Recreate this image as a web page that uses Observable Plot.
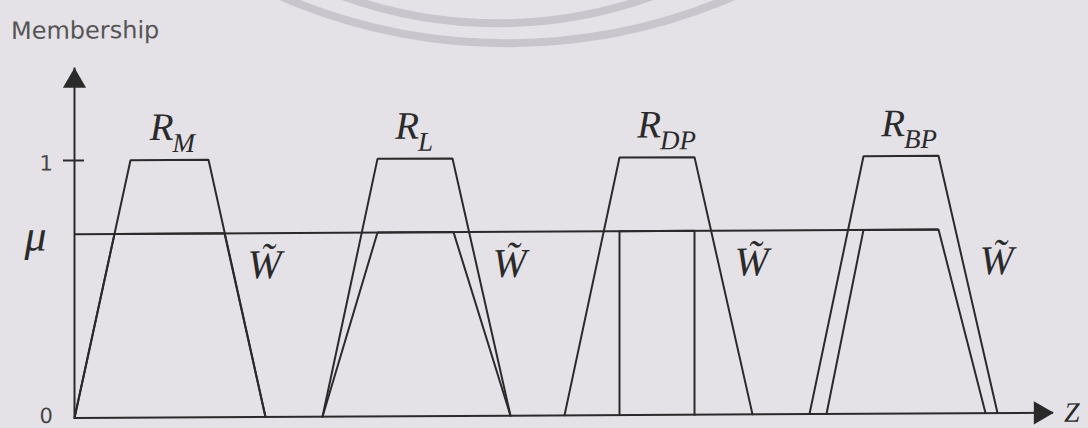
<!DOCTYPE html>
<html>
<head>
<meta charset="utf-8">
<script src="https://cdn.jsdelivr.net/npm/d3@7"></script>
<script src="https://cdn.jsdelivr.net/npm/@observablehq/plot@0.6"></script>
<style>
  html, body { margin: 0; padding: 0; background: #e4e2e6; overflow: hidden; }
  #figure {
    position: relative; width: 1088px; height: 428px;
    transform: skewY(-0.31deg); transform-origin: 544px 214px;
  }
  #figure svg { position: absolute; left: 0; top: 0; }
  .heading {
    position: absolute; left: 11px; top: 16px;
    font: 24px "DejaVu Sans", Verdana, sans-serif; color: #555; line-height: 1;
  }
  .arc { position: absolute; box-sizing: border-box; border-radius: 50%; border: 8px solid #c9c5cd; }
</style>
</head>
<body>
<div id="figure">
  <div class="arc" style="left:-65px; top:-1103px; width:1150px; height:1150px;"></div>
  <div class="arc" style="left:40px; top:-893px; width:920px; height:920px;"></div>
  <div class="heading">Membership</div>
</div>
<script>
// Fuzzy sets on the Z axis: outer trapezoids R and the weighted sets W̃ (cut at level μ)
const setNames = ["M", "L", "DP", "BP"];
// corner positions along Z: [foot left, shoulder left, shoulder right, foot right]
const rCorners = [
  [0.0, 5.6, 13.4, 19.1],
  [24.8, 30.3, 37.8, 43.6],
  [49.0, 54.5, 62.0, 67.8],
  [73.5, 78.9, 86.4, 92.3]
];
const wCorners = [
  [0.0, 4.0, 15.0, 19.1],
  [24.8, 30.3, 37.9, 43.6],
  [54.5, 54.5, 62.0, 62.0],
  [75.2, 78.9, 86.4, 91.1]
];
const mu = 0.714;            // membership level of W̃
const yTicks = [0, 1];
const zMax = 97.9;           // end of the Z axis
const membershipMax = 1.359; // end of the membership axis

const ink = "#2a2a2a";
const serif = "'Liberation Serif', 'Times New Roman', serif";
const sans = "'DejaVu Sans', Verdana, sans-serif";

// trapezoid outlines as tidy points
const outline = (corners, top) =>
  setNames.flatMap((name, i) =>
    corners[i].map((z, j) => ({set: name, z, m: (j === 0 || j === 3) ? 0 : top})));
const rPoints = outline(rCorners, 1);
const wPoints = outline(wCorners, mu);
const muEnd = d3.max(wCorners, (c) => c[2]);
const topCenter = (d, i) => (rCorners[i][1] + rCorners[i][2]) / 2;
const tickLabel = {frameAnchor: "left", dx: -35, text: (d) => String(d), fontFamily: sans, fontSize: 21, fill: "#444"};

const chart = Plot.plot({
  width: 1088,
  height: 428,
  marginLeft: 74,
  marginRight: 35,
  marginTop: 65,
  marginBottom: 13,
  x: {domain: [0, zMax], axis: null},
  y: {domain: [0, membershipMax], axis: null},
  style: {background: "transparent", color: ink},
  marks: [
    // axes with filled arrowheads
    Plot.ruleX([0], {y1: 0, y2: membershipMax, stroke: ink, strokeWidth: 2}),
    Plot.ruleY([0], {x1: 0, x2: zMax, stroke: ink, strokeWidth: 2}),
    Plot.dot([0], {frameAnchor: "top-left", dy: 13, symbol: "triangle", r: 8.6, fill: ink, stroke: "none"}),
    Plot.dot([0], {frameAnchor: "bottom-right", dx: -13, symbol: "triangle", rotate: 90, r: 8.6, fill: ink, stroke: "none"}),
    // tick at membership 1 and the tick labels
    Plot.ruleY([1], {x1: 0, x2: 0, insetLeft: -11, insetRight: -10, stroke: ink, strokeWidth: 2}),
    Plot.text(yTicks.filter((d) => d > 0), {y: (d) => d, dy: 3, ...tickLabel}),
    Plot.text(yTicks.filter((d) => d === 0), {y: (d) => d, dy: -2, ...tickLabel}),
    Plot.text([mu], {y: (d) => d, frameAnchor: "left", dx: -50, dy: 2, text: () => "μ",
      fontFamily: serif, fontStyle: "italic", fontSize: 44, fill: ink}),
    Plot.text(["Z"], {y: 0, frameAnchor: "right", dx: 26, text: (d) => d,
      fontFamily: serif, fontStyle: "italic", fontSize: 28, fill: ink}),
    // level μ
    Plot.ruleY([mu], {x1: 0, x2: muEnd, stroke: ink, strokeWidth: 2}),
    // trapezoids
    Plot.line(rPoints, {x: "z", y: "m", z: "set", stroke: ink, strokeWidth: 2, strokeLinejoin: "miter"}),
    Plot.line(wPoints, {x: "z", y: "m", z: "set", stroke: ink, strokeWidth: 2, strokeLinejoin: "miter"}),
    // set labels R with subscripts
    Plot.text(setNames, {x: topCenter, y: 1, text: () => "R", textAnchor: "end", lineAnchor: "bottom",
      dx: 4, dy: -20, fontFamily: serif, fontStyle: "italic", fontSize: 39, fill: ink}),
    Plot.text(setNames, {x: topCenter, y: 1, text: (d) => d, textAnchor: "start", lineAnchor: "bottom",
      dx: 3, dy: -8, fontFamily: serif, fontStyle: "italic", fontSize: 27, fill: ink}),
    // W̃ labels beside each falling edge
    Plot.text(setNames, {x: (d, i) => rCorners[i][3], y: mu, text: () => "W\u0303", lineAnchor: "bottom",
      dx: -1, dy: 45, fontFamily: serif, fontStyle: "italic", fontSize: 41, fill: ink})
  ]
});
document.getElementById("figure").appendChild(chart);
</script>
</body>
</html>
